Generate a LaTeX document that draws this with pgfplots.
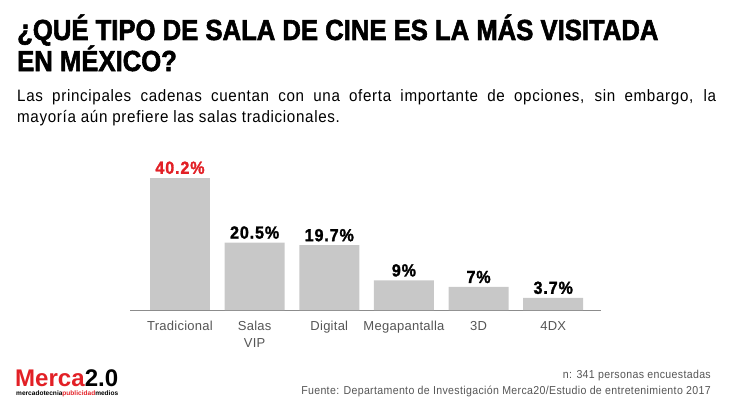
\documentclass[border=0pt]{standalone}
\usepackage{fontspec}
\setmainfont{Liberation Sans}
\newfontfamily\titlefont[FakeStretch=0.885, FakeBold=2]{Liberation Sans}
\newfontfamily\valfont[FakeStretch=0.92, FakeBold=1.5, LetterSpace=5]{Liberation Sans}
\newfontfamily\subfont[FakeStretch=0.92, LetterSpace=4]{Liberation Sans}
\newfontfamily\footfont[FakeStretch=0.92, LetterSpace=3]{Liberation Sans}
\newfontfamily\tickfont[LetterSpace=2]{Liberation Sans}
\usepackage{pgfplots}
\pgfplotsset{compat=1.18}
\definecolor{barg}{RGB}{200,200,200}
\definecolor{axisg}{RGB}{140,140,140}
\definecolor{tickg}{RGB}{85,85,85}
\definecolor{mred}{RGB}{226,32,38}
\begin{document}
\begin{tikzpicture}
\path[use as bounding box] (0pt,0pt) rectangle (731pt,-412pt);
% title
\node[anchor=base west, inner sep=0pt] at (17pt,-40pt) {\titlefont\bfseries\fontsize{29}{30}\selectfont ¿QUÉ TIPO DE SALA DE CINE ES LA MÁS VISITADA};
\node[anchor=base west, inner sep=0pt] at (17pt,-71pt) {\titlefont\bfseries\fontsize{29}{30}\selectfont EN MÉXICO?};
% subtitle
\node[anchor=base west, inner sep=0pt] at (17pt,-101pt) {\subfont\fontsize{16.5}{20}\selectfont\makebox[699pt][s]{Las principales cadenas cuentan con una oferta importante de opciones, sin embargo, la}};
\node[anchor=base west, inner sep=0pt] at (17pt,-122pt) {\subfont\fontsize{16.5}{20}\selectfont mayoría aún prefiere las salas tradicionales.};
\begin{axis}[
  at={(130pt,-310pt)}, anchor=south west,
  scale only axis, width=471pt, height=148pt,
  xmin=-0.67, xmax=5.64, ymin=0, ymax=45,
  axis y line=none, axis x line*=bottom,
  x axis line style={color=axisg, line width=1pt},
  ytick=\empty,
  xtick={0,1,2,3,4,5},
  xticklabels={Tradicional,{Salas\\VIP},Digital,Megapantalla,3D,4DX},
  major tick length=0pt,
  xticklabel style={font=\tickfont\fontsize{13}{17}\selectfont, text=tickg, align=center, anchor=north, inner sep=0pt, yshift=-11pt},
  ybar=0pt, bar shift=0pt, bar width=60pt,
  clip=false,
  nodes near coords={\pgfplotspointmeta},
  point meta=explicit symbolic,
  every node near coord/.append style={font=\valfont\bfseries\fontsize{17.5}{20}\selectfont, anchor=base, inner sep=0pt, yshift=4pt},
]
\addplot[fill=barg, draw=none, every node near coord/.append style={text=mred}] coordinates {(0,40.2) [40.2\%]};
\addplot[fill=barg, draw=none, every node near coord/.append style={text=black}] coordinates {(1,20.5) [20.5\%] (2,19.7) [19.7\%] (3,9) [9\%] (4,7) [7\%] (5,3.7) [3.7\%]};
\end{axis}
% footer
\node[anchor=base east, inner sep=0pt, text=tickg] at (711pt,-378pt) {\footfont\fontsize{11.5}{14}\selectfont n: 341 personas encuestadas};
\node[anchor=base east, inner sep=0pt, text=tickg] at (711pt,-394pt) {\footfont\fontsize{11.5}{14}\selectfont Fuente: Departamento de Investigación Merca20/Estudio de entretenimiento 2017};
% logo
\node[anchor=base west, inner sep=0pt] at (15pt,-386pt) {\resizebox{103pt}{!}{\bfseries\textcolor{mred}{Merca}\textcolor{black}{2.0}}};
\node[anchor=base west, inner sep=0pt] at (16pt,-395pt) {\resizebox{102pt}{!}{\bfseries mercadotecnia\textcolor{mred}{publicidad}medios}};
\end{tikzpicture}
\end{document}
